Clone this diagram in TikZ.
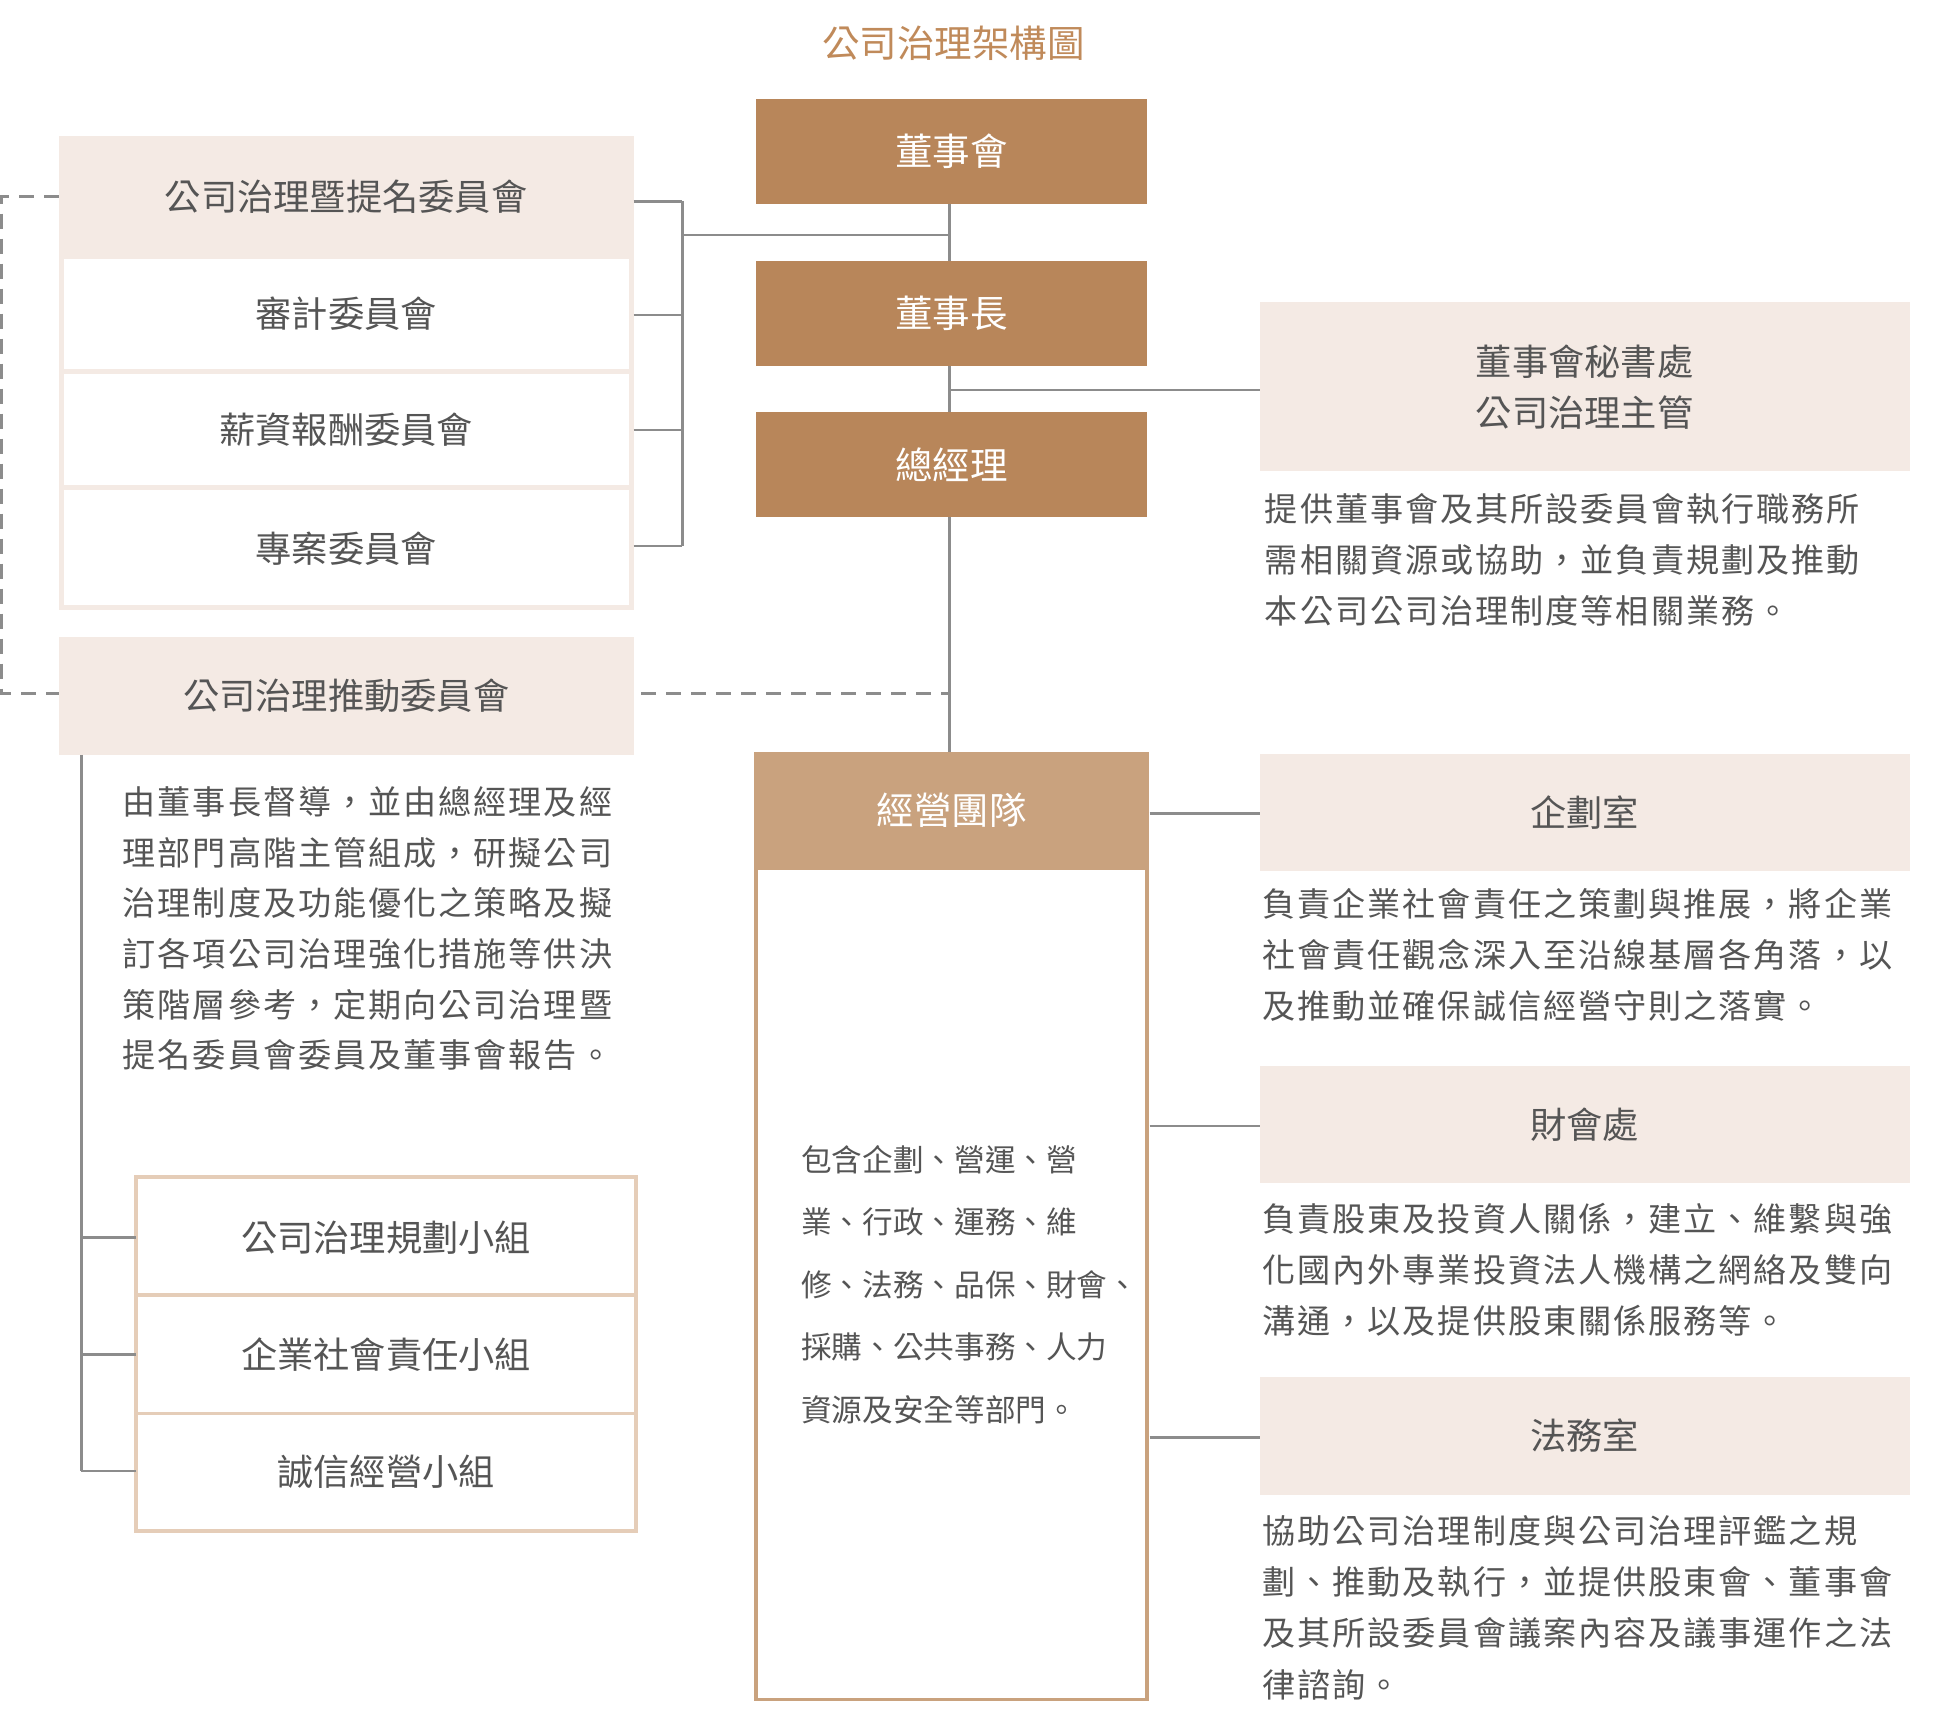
\documentclass[tikz,border=0pt]{standalone}
\usepackage{fontspec}
\setmainfont{Noto Sans CJK TC}
\newfontfamily\cjkls[LetterSpace=6]{Noto Sans CJK TC}
\definecolor{dkb}{HTML}{B8865A}
\definecolor{ltb}{HTML}{C9A27E}
\definecolor{pale}{HTML}{F4EAE4}
\definecolor{bord}{HTML}{E5CDB8}
\definecolor{ttl}{HTML}{C08A5A}
\definecolor{ln}{HTML}{8C8C8C}
\definecolor{txt}{HTML}{555555}
\begin{document}
\begin{tikzpicture}[x=1pt,y=-1pt,
 dark/.style={text=white,font=\fontsize{30}{30}\selectfont},
 lbl/.style={text=txt,font=\fontsize{29}{29}\selectfont},
 desc/.style={anchor=west,inner sep=0,text=txt,font=\cjkls\fontsize{26.5}{26.5}\selectfont},
 mdesc/.style={anchor=west,inner sep=0,text=txt,font=\fontsize{24.5}{24.5}\selectfont},
 conn/.style={draw=ln,line width=2.2},
 dsh/.style={draw=ln,line width=2.2,dash pattern=on 12pt off 8pt}]
\useasboundingbox (0,0) rectangle (1550,1373);
\fill[white] (0,0) rectangle (1550,1373);
\node[text=ttl,font=\fontsize{30}{30}\selectfont] (title) at (763,35) {公司治理架構圖};
% connectors first
\coordinate (c1) at (760,163);\coordinate (c2) at (760,602);
\draw[conn] (c1) -- (c2);
\draw[conn] (760,312) -- (1008,312);
% center column
\fill[dkb] (605,79) rectangle (918,163); \node[dark] (bod) at (761.5,121) {董事會};
\fill[dkb] (605,209) rectangle (918,293); \node[dark] (chair) at (761.5,251) {董事長};
\fill[dkb] (605,330) rectangle (918,414); \node[dark] (gm) at (761.5,372) {總經理};
\draw[ltb,line width=3] (605,695) rectangle (918,1360);
\fill[ltb] (603.5,602) rectangle (919.5,695); \node[dark] (team) at (761.5,648) {經營團隊};
% team text
\foreach \t [count=\i] in {包含企劃、營運、營,業、行政、運務、維,修、法務、品保、財會、,採購、公共事務、人力,資源及安全等部門。}
 \node[mdesc] at (641,878+50*\i) {\t};
% left committees
\fill[pale] (47,109) rectangle (507,205);
\draw[pale,line width=4] (49,205) rectangle (505,486);
\draw[pale,line width=4] (49,297) -- (505,297) (49,390) -- (505,390);
\node[lbl] (gc) at (277,157) {公司治理暨提名委員會};
\node[lbl] (ac) at (277,251) {審計委員會};
\node[lbl] (rc) at (277,344) {薪資報酬委員會};
\node[lbl] (pc) at (277,439) {專案委員會};
\draw[conn] (507,161) -- (546,161) (507,252) -- (546,252) (507,344) -- (546,344) (507,437) -- (546,437) (546,161) -- (546,437) (546,188) -- (760,188);
\fill[pale] (47,510) rectangle (507,604);
\node[lbl] (cgp) at (277,557) {公司治理推動委員會};
\draw[dsh] (47,157) -- (1,157) -- (1,555) -- (47,555);
\draw[dsh] (513,555) -- (760,555);
\foreach \t [count=\i] in {由董事長督導，並由總經理及經,理部門高階主管組成，研擬公司,治理制度及功能優化之策略及擬,訂各項公司治理強化措施等供決,策階層參考，定期向公司治理暨,提名委員會委員及董事會報告。}
 \node[desc] at (98,601+40.6*\i) {\t};
\draw[bord,line width=3] (109,942) rectangle (509,1225);
\draw[bord,line width=3] (109,1036) -- (509,1036) (109,1131) -- (509,1131);
\node[lbl] (g1) at (309,990) {公司治理規劃小組};
\node[lbl] (g2) at (309,1084) {企業社會責任小組};
\node[lbl] (g3) at (309,1178) {誠信經營小組};
\draw[conn] (65,604) -- (65,1177) (65,990) -- (109,990) (65,1084) -- (109,1084) (65,1177) -- (109,1177);
% right
\fill[pale] (1008,242) rectangle (1528,377);
\node[lbl,align=center] (sec) at (1268,310) {董事會秘書處\\[12pt]公司治理主管};
\foreach \t [count=\i] in {提供董事會及其所設委員會執行職務所,需相關資源或協助，並負責規劃及推動,本公司公司治理制度等相關業務。}
 \node[desc] at (1012,367+40.5*\i) {\t};
\fill[pale] (1008,603) rectangle (1528,697); \node[lbl] (plan) at (1268,650) {企劃室};
\draw[conn] (920,651) -- (1008,651);
\foreach \t [count=\i] in {負責企業社會責任之策劃與推展，將企業,社會責任觀念深入至沿線基層各角落，以,及推動並確保誠信經營守則之落實。}
 \node[desc] at (1010,682+41*\i) {\t};
\fill[pale] (1008,853) rectangle (1528,947); \node[lbl] (fin) at (1268,900) {財會處};
\draw[conn] (920,901) -- (1008,901);
\foreach \t [count=\i] in {負責股東及投資人關係，建立、維繫與強,化國內外專業投資法人機構之網絡及雙向,溝通，以及提供股東關係服務等。}
 \node[desc] at (1010,934+41*\i) {\t};
\fill[pale] (1008,1102) rectangle (1528,1196); \node[lbl] (law) at (1268,1149) {法務室};
\draw[conn] (920,1150) -- (1008,1150);
\foreach \t [count=\i] in {協助公司治理制度與公司治理評鑑之規,劃、推動及執行，並提供股東會、董事會,及其所設委員會議案內容及議事運作之法,律諮詢。}
 \node[desc] at (1010,1184+41*\i) {\t};
\end{tikzpicture}
\end{document}
